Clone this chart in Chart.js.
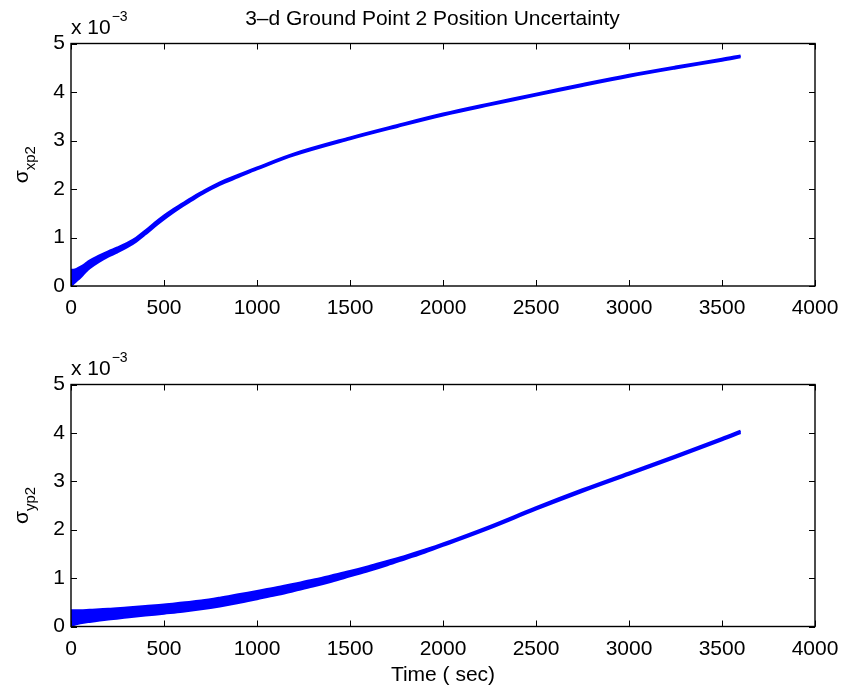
<!DOCTYPE html>
<html><head><meta charset="utf-8">
<script src="https://cdn.jsdelivr.net/npm/chart.js@4/dist/chart.umd.min.js"></script>
<style>
html,body{margin:0;padding:0;background:#fff;}
#wrap{position:relative;width:846px;height:694px;overflow:hidden;}
canvas{position:absolute;left:0;}
</style></head><body>
<div id="wrap">
<canvas id="c1" width="846" height="340" style="top:0px"></canvas>
<canvas id="c2" width="846" height="354" style="top:340px"></canvas>
</div>
<script>
// Values in units of 1e-3 (upper / lower edge of the plotted band)
const timeTop    = [0, 5, 15, 30, 50, 75, 100, 150, 200, 250, 300, 350, 400, 450, 500, 550, 600, 650, 700, 800, 900, 1000, 1200, 1500, 1750, 2000, 2250, 2500, 2750, 3000, 3250, 3500, 3600];
const sigXpUpper = [0.33,0.33,0.33,0.35,0.39,0.45,0.52,0.62,0.71,0.79,0.88,0.99,1.14,1.30,1.45,1.58,1.70,1.82,1.93,2.13,2.29,2.44,2.73,3.06,3.31,3.55,3.76,3.96,4.16,4.35,4.52,4.68,4.75];
const sigXpLower = [0.00,0.02,0.06,0.11,0.18,0.28,0.37,0.50,0.61,0.70,0.80,0.92,1.07,1.23,1.38,1.52,1.65,1.77,1.89,2.09,2.25,2.41,2.70,3.03,3.28,3.52,3.73,3.93,4.13,4.32,4.49,4.65,4.72];

const timeBot    = [0, 10, 50, 100, 200, 300, 400, 500, 600, 700, 800, 900, 1000, 1100, 1200, 1300, 1400, 1500, 1600, 1700, 1800, 1900, 2000, 2250, 2500, 2750, 3000, 3250, 3500, 3600];
const sigYpUpper = [0.33,0.33,0.33,0.34,0.36,0.39,0.42,0.45,0.49,0.53,0.59,0.66,0.73,0.80,0.88,0.96,1.05,1.14,1.24,1.35,1.46,1.58,1.71,2.07,2.46,2.83,3.18,3.53,3.89,4.04];
const sigYpLower = [0.00,0.03,0.07,0.10,0.15,0.19,0.23,0.27,0.31,0.36,0.42,0.49,0.57,0.65,0.74,0.83,0.93,1.04,1.15,1.27,1.40,1.53,1.67,2.03,2.42,2.79,3.14,3.49,3.85,4.00];

const xTicks = [0, 500, 1000, 1500, 2000, 2500, 3000, 3500, 4000];
const yTicks = [0, 1, 2, 3, 4, 5];
const titleText = "3\u2013d Ground Point 2 Position Uncertainty";
const xLabelText = "Time ( sec)";

const FONT = "Liberation Sans, Arial, Helvetica, sans-serif";
const FS = 21;
const BLUE = "#0000ff";

function pts(xs, ys){ return xs.map((x,i)=>({x:x, y:ys[i]})); }

const boxPlugin = {
  id: 'matlabBox',
  afterDraw(chart, args, opts){
    const ctx = chart.ctx, a = chart.chartArea, xs = chart.scales.x, ys = chart.scales.y;
    ctx.save();
    ctx.strokeStyle = '#000';
    ctx.lineWidth = 1;
    ctx.beginPath();
    xs.ticks.forEach(t=>{
      const px = Math.round(xs.getPixelForValue(t.value)) + 0.5;
      ctx.moveTo(px, a.bottom); ctx.lineTo(px, a.bottom - 6);
      ctx.moveTo(px, a.top); ctx.lineTo(px, a.top + 6);
    });
    ys.ticks.forEach(t=>{
      const py = Math.round(ys.getPixelForValue(t.value)) + 0.5;
      ctx.moveTo(a.left, py); ctx.lineTo(a.left + 6, py);
      ctx.moveTo(a.right, py); ctx.lineTo(a.right - 6, py);
    });
    ctx.stroke();
    ctx.lineWidth = 1.4;
    ctx.strokeRect(a.left, a.top, a.right - a.left, a.bottom - a.top);
    ctx.fillStyle = '#000';
    // exponent label
    ctx.textBaseline = 'alphabetic';
    ctx.textAlign = 'left';
    ctx.font = FS + "px " + FONT;
    const ex = a.left, eyb = a.top - opts.expGap;
    ctx.fillText("x 10", ex, eyb);
    const w = ctx.measureText("x 10").width;
    ctx.font = "14px " + FONT;
    ctx.fillText("\u22123", ex + w + 1, eyb - 13);
    // y label with subscript
    ctx.save();
    ctx.translate(opts.ylabX, (a.top + a.bottom)/2);
    ctx.rotate(-Math.PI/2);
    ctx.font = FS + "px " + FONT;
    const ws = ctx.measureText("\u03c3").width;
    ctx.font = "15px " + FONT;
    const wsub = ctx.measureText(opts.sub).width;
    const total = ws + wsub;
    ctx.font = FS + "px " + FONT;
    ctx.fillText("\u03c3", -total/2, 0);
    ctx.font = "15px " + FONT;
    ctx.fillText(opts.sub, -total/2 + ws, 7);
    ctx.restore();
    // title
    if (opts.title){
      ctx.font = FS + "px " + FONT;
      ctx.textAlign = 'center';
      ctx.fillText(opts.title, 432.5, 24.5);
    }
    if (opts.xlabel){
      ctx.font = FS + "px " + FONT;
      ctx.textAlign = 'center';
      ctx.fillText(opts.xlabel, (a.left + a.right)/2, opts.xlabelY);
    }
    ctx.restore();
  }
};

function makeChart(id, xs, up, lo, cfg){
  return new Chart(document.getElementById(id), {
    type: 'line',
    data: {
      datasets: [
        {data: pts(xs, up), borderColor: BLUE, backgroundColor: BLUE, borderWidth: 2.5, pointRadius: 0, fill: '+1', tension: 0.35},
        {data: pts(xs, lo), borderColor: BLUE, backgroundColor: BLUE, borderWidth: 2.5, pointRadius: 0, fill: false, tension: 0.35}
      ]
    },
    options: {
      responsive: false,
      animation: false,
      layout: {padding: {top: cfg.padTop, right: 31, left: 0, bottom: 0}},
      plugins: {
        legend: {display: false},
        tooltip: {enabled: false},
        matlabBox: cfg.box
      },
      scales: {
        x: {
          type: 'linear', min: 0, max: 4000,
          afterBuildTicks: s => { s.ticks = xTicks.map(v=>({value:v})); },
          grid: {display: false, drawTicks: false},
          border: {display: false},
          ticks: {color: '#000', font: {family: FONT, size: FS}, padding: 10, maxRotation: 0, callback: v => String(v)},
          afterFit: s => { s.height = cfg.xH; s.paddingLeft = 0; s.paddingRight = 0; }
        },
        y: {
          min: 0, max: 5,
          afterBuildTicks: s => { s.ticks = yTicks.map(v=>({value:v})); },
          grid: {display: false, drawTicks: false},
          border: {display: false},
          ticks: {color: '#000', font: {family: FONT, size: FS}, padding: 6, callback: v => String(v)},
          afterFit: s => { s.width = 71; s.paddingTop = 0; s.paddingBottom = 0; }
        }
      }
    },
    plugins: [boxPlugin]
  });
}

makeChart('c1', timeTop, sigXpUpper, sigXpLower, {
  padTop: 43.5, xH: 340 - 286,
  box: {sub: "xp2", ylabX: 28, expGap: 10, title: titleText}
});
makeChart('c2', timeBot, sigYpUpper, sigYpLower, {
  padTop: 44.5, xH: 354 - 286.5,
  box: {sub: "yp2", ylabX: 28, expGap: 9.5, xlabel: xLabelText, xlabelY: 341}
});
</script>
</body></html>
